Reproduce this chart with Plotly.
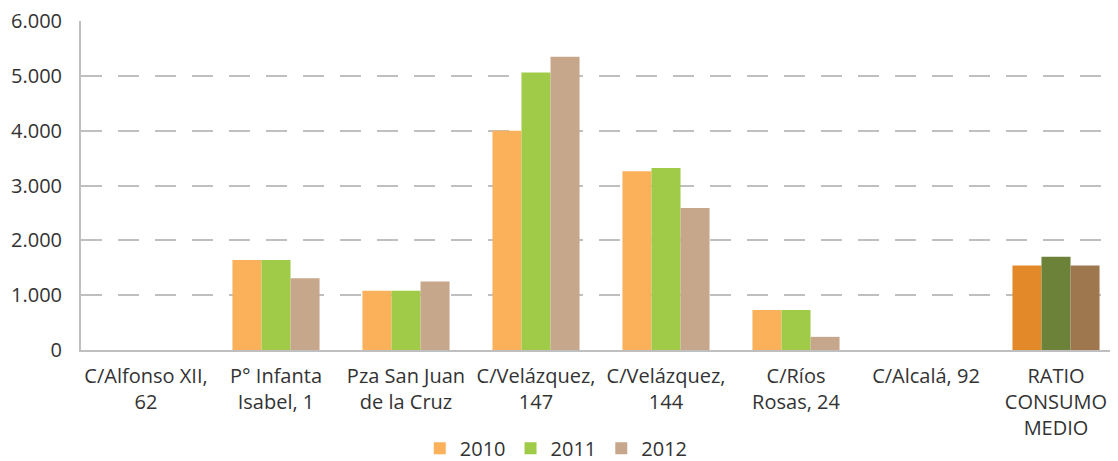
import plotly.graph_objects as go

categories = ["C/Alfonso XII,<br>62", "P° Infanta<br>Isabel, 1", "Pza San Juan<br>de la Cruz",
              "C/Velázquez,<br>147", "C/Velázquez,<br>144", "C/Ríos<br>Rosas, 24",
              "C/Alcalá, 92", "RATIO<br>CONSUMO<br>MEDIO"]
v2010 = [0, 1640, 1080, 4000, 3260, 730, 0, 1540]
v2011 = [0, 1640, 1080, 5060, 3320, 730, 0, 1700]
v2012 = [0, 1310, 1250, 5350, 2590, 240, 0, 1540]
series_names = ["2010", "2011", "2012"]
base_colors = ["#FBB15A", "#9FCB48", "#C7A78B"]
ratio_colors = ["#E3892A", "#6B8238", "#9E774F"]

fig = go.Figure()
for name, vals, c, rc in zip(series_names, [v2010, v2011, v2012], base_colors, ratio_colors):
    cols = [c] * (len(categories) - 1) + [rc]
    fig.add_trace(go.Bar(x=categories, y=vals, name=name,
                         marker=dict(color=cols, line=dict(width=0))))

font_family = "Open Sans, Noto Sans, sans-serif"
fig.update_layout(
    width=1118, height=461,
    margin=dict(l=73, r=5, t=13, b=119),
    paper_bgcolor="white", plot_bgcolor="white",
    barmode="group", bargap=0.33, bargroupgap=0,
    separators=",.",
    font=dict(family=font_family, size=20, color="#333333"),
    showlegend=True,
    legend=dict(orientation="h", x=0.457, xanchor="center",
                yref="container", y=0.045, yanchor="middle",
                font=dict(size=20, color="#333333"), itemwidth=30,
                traceorder="normal"),
)
fig.update_yaxes(range=[0, 6000], dtick=1000, tickformat=",d",
                 showgrid=True, gridcolor="#BFBFBF", gridwidth=1.5, griddash="21px,16px",
                 showline=True, linecolor="#BFBFBF", linewidth=2,
                 zeroline=False, ticklabelstandoff=13, automargin=False,
                 ticklabeloverflow="allow",
                 tickfont=dict(size=20, color="#333333"))
fig.update_xaxes(showline=True, linecolor="#BFBFBF", linewidth=2, showgrid=False,
                 tickangle=0, ticklabelstandoff=7, automargin=False,
                 tickfont=dict(size=20, color="#333333"))

fig.write_html("out.html")
